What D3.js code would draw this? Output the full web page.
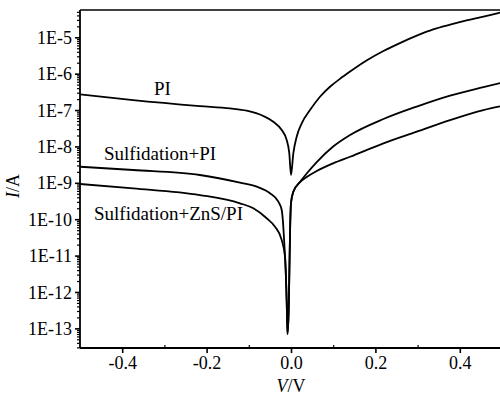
<!DOCTYPE html>
<html><head><meta charset="utf-8">
<script src="https://cdn.jsdelivr.net/npm/d3@7"></script>
<style>body{margin:0;background:#fff}svg{display:block}
svg text{font-family:"Liberation Serif","Times New Roman","DejaVu Serif",serif !important;}</style>
</head><body>
<svg id="chart" width="500" height="397"></svg>
<script>
// Data (V in volts, |I| in amperes)
const piV = [-0.5,-0.374,-0.216,-0.1445,-0.105,-0.0656,-0.042,-0.022,-0.0102,-0.004,0.0,0.0055,0.0135,0.0254,0.045,0.0687,0.0924,0.116,0.140,0.179,0.219,0.258,0.298,0.337,0.377,0.416,0.456,0.491,0.5];
const piI = [2.70e-7,1.88e-7,1.29e-7,1.11e-7,9.6e-8,6.85e-8,4.77e-8,2.82e-8,1.50e-8,6.46e-9,1.64e-9,6.46e-9,1.85e-8,4.31e-8,1.0e-7,2.32e-7,4.37e-7,7.19e-7,1.14e-6,2.29e-6,4.18e-6,6.93e-6,1.11e-5,1.65e-5,2.23e-5,2.91e-5,3.70e-5,4.65e-5,4.92e-5];

const sV = [-0.5,-0.374,-0.216,-0.121,-0.0813,-0.0498,-0.030,-0.022,-0.0182,-0.0159,-0.0126,-0.0102,-0.0083,-0.0055,-0.0036,-0.0019,0.0,0.0055,0.0213,0.0372,0.061,0.100,0.140,0.219,0.298,0.377,0.456,0.5];
const sI = [2.77e-9,2.25e-9,1.64e-9,1.01e-9,7.82e-10,5.15e-10,3.03e-10,1.79e-10,6.22e-11,2.18e-11,4.02e-12,6.0e-13,7.0e-14,3.2e-13,5.52e-12,6.93e-11,2.79e-10,5.69e-10,1.05e-9,1.80e-9,3.72e-9,9.93e-9,2.06e-8,5.66e-8,1.25e-7,2.50e-7,4.28e-7,5.69e-7];

const zV = [-0.5,-0.374,-0.216,-0.121,-0.0893,-0.0576,-0.0379,-0.022,-0.0142,-0.0114,-0.0095,-0.0083,-0.0055,-0.0036,-0.0019,0.0,0.0055,0.0213,0.0372,0.061,0.100,0.140,0.219,0.298,0.377,0.456,0.5];
const zI = [9.27e-10,7.06e-10,4.62e-10,2.74e-10,1.99e-10,1.06e-10,6.22e-11,2.69e-11,9.3e-12,1.56e-12,2.33e-13,7.0e-14,3.2e-13,5.52e-12,6.93e-11,2.79e-10,5.69e-10,1.05e-9,1.44e-9,2.11e-9,3.44e-9,5.21e-9,1.22e-8,2.54e-8,5.31e-8,1.0e-7,1.29e-7];

const seriesNames = ["PI","Sulfidation+PI","Sulfidation+ZnS/PI"];
const xTicks = [-0.4,-0.2,0.0,0.2,0.4];
const xMinorTicks = [-0.3,-0.1,0.1,0.3];
const yTicks = [1e-5,1e-6,1e-7,1e-8,1e-9,1e-10,1e-11,1e-12,1e-13];
const yTickLabels = ["1E-5","1E-6","1E-7","1E-8","1E-9","1E-10","1E-11","1E-12","1E-13"];

const svg = d3.select("#chart");
const L = 80, R = 502, T = 10, B = 348;
const x = d3.scaleLinear().domain([-0.5,0.5]).range([L,R]);
const y = d3.scaleLog().domain([Math.pow(10,-13.54), Math.pow(10,-4.25)]).range([B,T]);

const font = "Liberation Serif";

// frame top / right
svg.append("line").attr("x1",L).attr("x2",R).attr("y1",T).attr("y2",T).attr("stroke","#000").attr("stroke-width",1.6);
svg.append("line").attr("x1",R).attr("x2",R).attr("y1",T).attr("y2",B).attr("stroke","#000").attr("stroke-width",1.6);

// y minor ticks
const yMinor = [];
for (let e = -14; e <= -5; e++) for (let m = 2; m <= 9; m++) {
  const v = m*Math.pow(10,e);
  if (v >= y.domain()[0] && v <= y.domain()[1]) yMinor.push(v);
}
const yMinorAxis = d3.axisLeft(y).tickValues(yMinor).tickSize(3).tickFormat("");
const gyMinor = svg.append("g").attr("transform",`translate(${L},0)`).call(yMinorAxis);
gyMinor.select(".domain").remove();
gyMinor.selectAll("line").attr("stroke-width",1.2);

const yAxis = d3.axisLeft(y).tickValues(yTicks).tickSize(5).tickPadding(3)
  .tickFormat((d,i)=>yTickLabels[i]);
const gy = svg.append("g").attr("transform",`translate(${L},0)`).call(yAxis);
gy.attr("font-family",font).attr("font-size",18);
gy.select(".domain").attr("d",`M0,${T}V${B}`).attr("stroke-width",1.8);
gy.selectAll("line").attr("stroke-width",1.6);
gy.selectAll("text").attr("fill","#000").attr("dy","0.34em");

// x axis
const xMinorAxis = d3.axisTop(x).tickValues(xMinorTicks).tickSize(3).tickFormat("");
const gxm = svg.append("g").attr("transform",`translate(0,${B})`).call(xMinorAxis);
gxm.select(".domain").remove();
gxm.selectAll("line").attr("stroke-width",1.2);

const xAxis = d3.axisBottom(x).tickValues(xTicks).tickSize(5).tickPadding(3)
  .tickFormat(d => d3.format(".1f")(d).replace("−","-"));
const gx = svg.append("g").attr("transform",`translate(0,${B})`).call(xAxis);
gx.attr("font-family",font).attr("font-size",18);
gx.select(".domain").attr("d",`M${L},0H${R}`).attr("stroke-width",1.8);
gx.selectAll("line").attr("stroke-width",1.6);
gx.selectAll("text").attr("fill","#000").attr("dy","0.72em");

// curves
const line = d3.line().x(d=>x(d[0])).y(d=>y(d[1])).curve(d3.curveMonotoneX);
const series = [d3.zip(piV,piI), d3.zip(sV,sI), d3.zip(zV,zI)];
svg.append("defs").append("clipPath").attr("id","clip").append("rect")
  .attr("x",L).attr("y",T).attr("width",R-L).attr("height",B-T);
series.forEach(s=>{
  svg.append("path").datum(s).attr("d",line).attr("fill","none")
    .attr("stroke","#000").attr("stroke-width",1.8).attr("stroke-linejoin","round")
    .attr("clip-path","url(#clip)");
});

// series labels
const labelPos = [[154,95],[104,160],[94,220]];
seriesNames.forEach((n,i)=>{
  svg.append("text").attr("x",labelPos[i][0]).attr("y",labelPos[i][1])
    .attr("font-size",19).attr("fill","#000").text(n);
});

// axis titles
const xt = svg.append("text").attr("x",291).attr("y",392).attr("text-anchor","middle")
  .attr("font-size",18).attr("fill","#000");
xt.append("tspan").attr("font-style","italic").text("V");
xt.append("tspan").text("/V");

const yt = svg.append("text").attr("transform","translate(19,186) rotate(-90)").attr("text-anchor","middle")
  .attr("font-size",18).attr("fill","#000");
yt.append("tspan").attr("font-style","italic").text("I");
yt.append("tspan").text("/A");
</script>
</body></html>
